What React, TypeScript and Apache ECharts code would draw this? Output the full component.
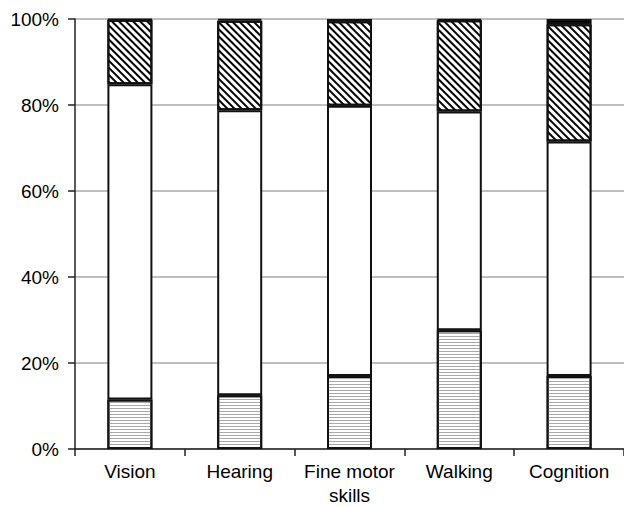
import React, { useEffect, useRef } from "react";
import * as echarts from "echarts";

const categories = ["Vision", "Hearing", "Fine motor\nskills", "Walking", "Cognition"];
const yTicks = [0, 20, 40, 60, 80, 100];
const segBottom = [11.5, 12.5, 17.0, 27.6, 17.0];
const segMiddle = [73.3, 66.3, 62.8, 50.9, 54.5];
const segHatched = [15.0, 20.8, 19.7, 21.2, 27.3];
const segTop = [0.2, 0.4, 0.5, 0.3, 1.2];

export default function App() {
  const ref = useRef<HTMLDivElement>(null);
  useEffect(() => {
    document.body.style.margin = "0";
    document.body.style.overflow = "hidden";
    if (!ref.current) return;
    const chart = echarts.init(ref.current, null, { renderer: "svg" });
    const border = { borderColor: "#111", borderWidth: 2 };
    const font = "Liberation Sans, Arial, sans-serif";
    chart.setOption({
      animation: false,
      grid: { left: 75, top: 19, width: 554, height: 433.5 },
      xAxis: {
        type: "category",
        data: categories,
        axisLine: { lineStyle: { color: "#222", width: 1.5 } },
        axisTick: { show: true, length: 7, lineStyle: { color: "#222", width: 1.5 } },
        axisLabel: { interval: 0, color: "#000", fontSize: 19, fontFamily: font, margin: 10, lineHeight: 24 },
      },
      yAxis: {
        type: "value",
        min: yTicks[0],
        max: yTicks[yTicks.length - 1],
        interval: 20,
        axisLine: { show: true, lineStyle: { color: "#222", width: 1.5 } },
        axisTick: { show: true, length: 7, lineStyle: { color: "#222", width: 1.5 } },
        axisLabel: { color: "#000", fontSize: 19, fontFamily: font, margin: 16, formatter: "{value}%" },
        splitLine: { lineStyle: { color: "#aaa", width: 1.5 } },
      },
      series: [
        {
          name: "Segment 1",
          type: "bar",
          stack: "total",
          barWidth: 45,
          data: segBottom,
          itemStyle: {
            color: "#fff",
            ...border,
            decal: {
              symbol: "rect",
              symbolSize: 1,
              dashArrayX: [[1, 0]],
              dashArrayY: [1, 2],
              color: "#a8a8a8",
            },
          },
        },
        {
          name: "Segment 2",
          type: "bar",
          stack: "total",
          data: segMiddle,
          itemStyle: { color: "#fff", ...border },
        },
        {
          name: "Segment 3",
          type: "bar",
          stack: "total",
          data: segHatched,
          itemStyle: {
            color: "#fff",
            ...border,
            decal: {
              symbol: "rect",
              symbolSize: 1,
              dashArrayX: [[1, 0]],
              dashArrayY: [1.6, 2.2],
              rotation: Math.PI / 4,
              color: "#000",
            },
          },
        },
        {
          name: "Segment 4",
          type: "bar",
          stack: "total",
          data: segTop,
          itemStyle: { color: "#000", ...border },
        },
      ],
    });
    return () => chart.dispose();
  }, []);
  return <div ref={ref} style={{ width: 624, height: 507 }} />;
}
